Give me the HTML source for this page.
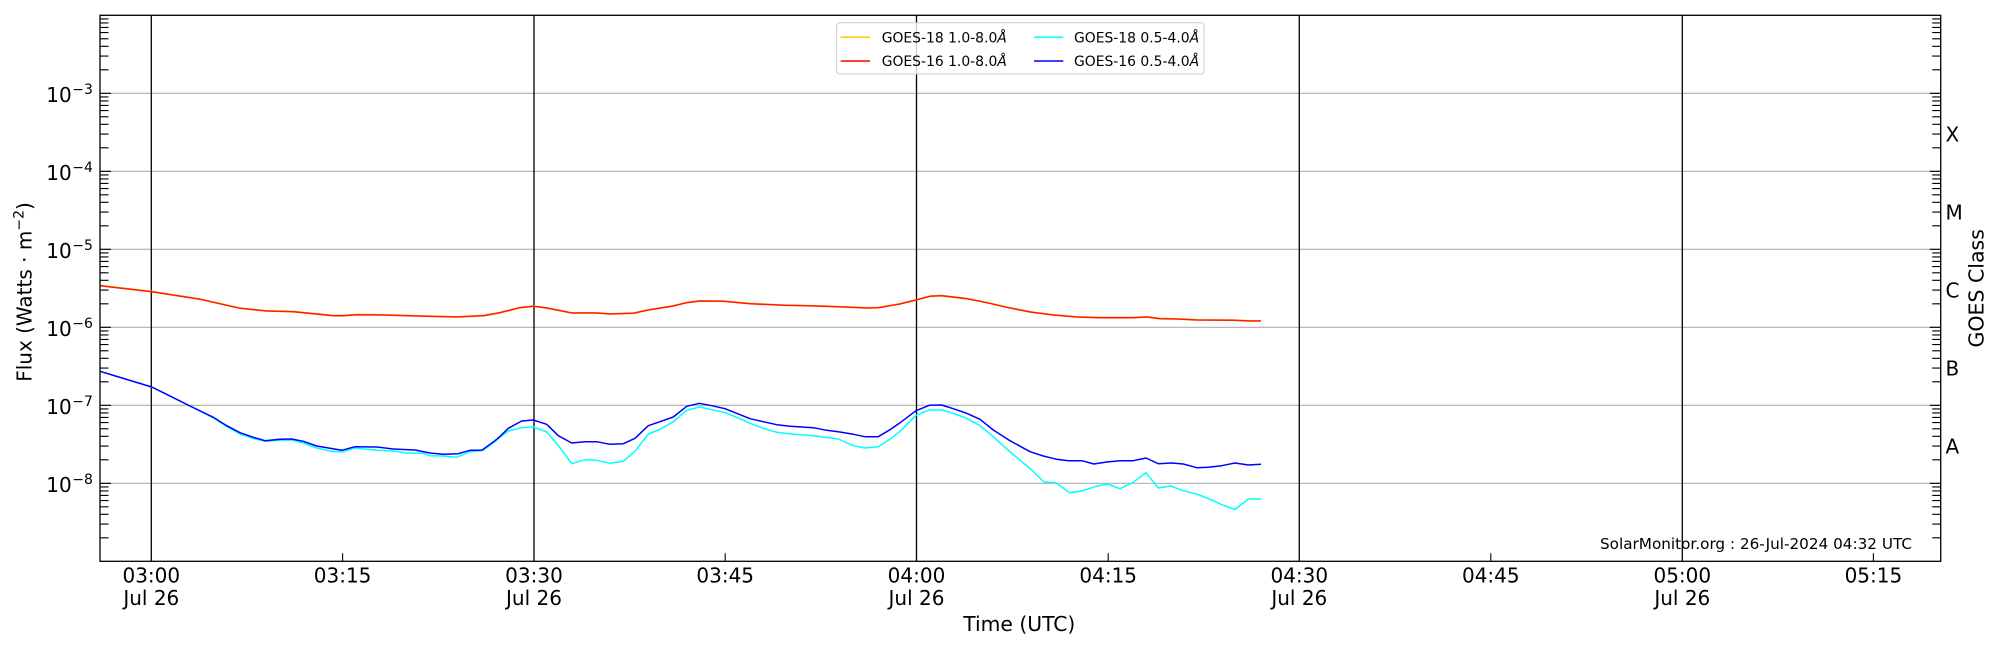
<!DOCTYPE html>
<html><head><meta charset="utf-8"><style>
html,body{margin:0;padding:0;background:#fff;}
svg{display:block;}
text{font-family:"DejaVu Sans","Liberation Sans",sans-serif;fill:#000;}
</style></head><body>
<svg width="2000" height="650" viewBox="0 0 2000 650" xmlns="http://www.w3.org/2000/svg">
<rect x="0" y="0" width="2000" height="650" fill="#fff"/>
<!-- horizontal grid -->
<g stroke="#b0b0b0" stroke-width="1.1">
<line x1="100" y1="93.3" x2="1940.7" y2="93.3"/>
<line x1="100" y1="171.3" x2="1940.7" y2="171.3"/>
<line x1="100" y1="249.3" x2="1940.7" y2="249.3"/>
<line x1="100" y1="327.3" x2="1940.7" y2="327.3"/>
<line x1="100" y1="405.3" x2="1940.7" y2="405.3"/>
<line x1="100" y1="483.3" x2="1940.7" y2="483.3"/>
</g>
<!-- vertical half-hour lines -->
<g stroke="#000" stroke-width="1.3">
<line x1="151.3" y1="15.3" x2="151.3" y2="561.3"/>
<line x1="534" y1="15.3" x2="534" y2="561.3"/>
<line x1="916.5" y1="15.3" x2="916.5" y2="561.3"/>
<line x1="1299.3" y1="15.3" x2="1299.3" y2="561.3"/>
<line x1="1682.3" y1="15.3" x2="1682.3" y2="561.3"/>
</g>
<!-- ticks -->
<path fill="none" stroke="#000" stroke-width="1.1" d="
M100 537.8h8.5M100 524.1h8.5M100 514.3h8.5M100 506.8h8.5M100 500.6h8.5M100 495.4h8.5M100 490.9h8.5M100 486.9h8.5
M100 459.8h8.5M100 446.1h8.5M100 436.3h8.5M100 428.8h8.5M100 422.6h8.5M100 417.4h8.5M100 412.9h8.5M100 408.9h8.5
M100 381.8h8.5M100 368.1h8.5M100 358.3h8.5M100 350.8h8.5M100 344.6h8.5M100 339.4h8.5M100 334.9h8.5M100 330.9h8.5
M100 303.8h8.5M100 290.1h8.5M100 280.3h8.5M100 272.8h8.5M100 266.6h8.5M100 261.4h8.5M100 256.9h8.5M100 252.9h8.5
M100 225.8h8.5M100 212.1h8.5M100 202.3h8.5M100 194.8h8.5M100 188.6h8.5M100 183.4h8.5M100 178.9h8.5M100 174.9h8.5
M100 147.8h8.5M100 134.1h8.5M100 124.3h8.5M100 116.8h8.5M100 110.6h8.5M100 105.4h8.5M100 100.9h8.5M100 96.9h8.5
M100 69.8h8.5M100 56.1h8.5M100 46.3h8.5M100 38.8h8.5M100 32.6h8.5M100 27.4h8.5M100 22.9h8.5M100 18.9h8.5
M100 483.3h11M100 405.3h11M100 327.3h11M100 249.3h11M100 171.3h11M100 93.3h11
M1940.7 537.8h-8.5M1940.7 524.1h-8.5M1940.7 514.3h-8.5M1940.7 506.8h-8.5M1940.7 500.6h-8.5M1940.7 495.4h-8.5M1940.7 490.9h-8.5M1940.7 486.9h-8.5
M1940.7 459.8h-8.5M1940.7 446.1h-8.5M1940.7 436.3h-8.5M1940.7 428.8h-8.5M1940.7 422.6h-8.5M1940.7 417.4h-8.5M1940.7 412.9h-8.5M1940.7 408.9h-8.5
M1940.7 381.8h-8.5M1940.7 368.1h-8.5M1940.7 358.3h-8.5M1940.7 350.8h-8.5M1940.7 344.6h-8.5M1940.7 339.4h-8.5M1940.7 334.9h-8.5M1940.7 330.9h-8.5
M1940.7 303.8h-8.5M1940.7 290.1h-8.5M1940.7 280.3h-8.5M1940.7 272.8h-8.5M1940.7 266.6h-8.5M1940.7 261.4h-8.5M1940.7 256.9h-8.5M1940.7 252.9h-8.5
M1940.7 225.8h-8.5M1940.7 212.1h-8.5M1940.7 202.3h-8.5M1940.7 194.8h-8.5M1940.7 188.6h-8.5M1940.7 183.4h-8.5M1940.7 178.9h-8.5M1940.7 174.9h-8.5
M1940.7 147.8h-8.5M1940.7 134.1h-8.5M1940.7 124.3h-8.5M1940.7 116.8h-8.5M1940.7 110.6h-8.5M1940.7 105.4h-8.5M1940.7 100.9h-8.5M1940.7 96.9h-8.5
M1940.7 69.8h-8.5M1940.7 56.1h-8.5M1940.7 46.3h-8.5M1940.7 38.8h-8.5M1940.7 32.6h-8.5M1940.7 27.4h-8.5M1940.7 22.9h-8.5M1940.7 18.9h-8.5
M1940.7 483.3h-11M1940.7 405.3h-11M1940.7 327.3h-11M1940.7 249.3h-11M1940.7 171.3h-11M1940.7 93.3h-11
M342.6 561.3v-8M725.2 561.3v-8M1108.2 561.3v-8M1490.8 561.3v-8M1873.4 561.3v-8
"/>
<!-- data: GOES-18 long (yellow), GOES-16 long (red) -->
<polyline fill="none" stroke="#ffc800" stroke-width="1.5" stroke-linejoin="round" points="100,285.4 151.7,291.4 200,299 240,308 266.7,310.7 293.3,311.4 333.3,315.4 343.3,315.4 356.7,314.4 383.3,314.7 416.7,315.7 456.7,316.7 483.3,315.4 500,312.4 520,307.4 533.3,306 546.7,307.7 571.7,312.7 596.7,312.7 610,313.7 633.3,313 648.3,309.7 673.3,305.7 686.7,302.4 700,300.7 723.3,301 750,303.4 783.3,305 816.7,305.7 850,307 866.7,307.7 878.3,307.4 900,303.7 916,299.7 930,296 941.7,295.4 966.7,298.4 986.7,302.4 1006.7,307 1030,311.7 1053.3,314.7 1076.7,316.7 1100,317.4 1133.3,317.4 1146.7,316.7 1160,318.4 1176.7,318.7 1196.7,319.7 1233.3,320 1250,320.7 1261,320.7"/>
<polyline fill="none" stroke="#ff1a00" stroke-width="1.5" stroke-linejoin="round" points="100,285.7 151.7,291.7 200,299.3 240,308.3 266.7,311 293.3,311.7 333.3,315.7 343.3,315.7 356.7,314.7 383.3,315 416.7,316 456.7,317 483.3,315.7 500,312.7 520,307.7 533.3,306.3 546.7,308 571.7,313 596.7,313 610,314 633.3,313.3 648.3,310 673.3,306 686.7,302.7 700,301 723.3,301.3 750,303.7 783.3,305.3 816.7,306 850,307.3 866.7,308 878.3,307.7 900,304 916,300 930,296.3 941.7,295.7 966.7,298.7 986.7,302.7 1006.7,307.3 1030,312 1053.3,315 1076.7,317 1100,317.7 1133.3,317.7 1146.7,317 1160,318.7 1176.7,319 1196.7,320 1233.3,320.3 1250,321 1261,321"/>
<!-- GOES-18 short (cyan) -->
<polyline fill="none" stroke="#00ffff" stroke-width="1.5" stroke-linejoin="round" points="100,371.3 151.7,387 163.3,392.7 190,406 213.3,417.8 226.7,426.5 240,434 253.3,438.5 265,441.3 280,440.3 291.7,440 303.3,443 316.7,448 330,451 341.7,452 355,448 376.7,450.3 393.3,451 406.7,453 423.3,453.3 430,455.7 443.3,456 456.7,457.3 470,451.7 483.3,450.3 495,441.7 500,437 508.3,431 521.7,427.7 533.3,427 546.7,432 559.3,446.7 571.7,463.7 585,459.7 596.7,460.3 610,463.3 623.3,461.3 635,451.3 648.3,434 660,429.3 673.3,421.7 686.7,410.3 699.3,407 711.7,409.7 725,412.7 736.7,417.3 750,423.3 763.3,428.3 776.7,432.3 790,434 813.3,435.7 838.3,439 853.3,445.7 865,448 878.3,446.7 890,439.3 900,431.3 916,415.3 929.3,410 941.7,410 953.3,413.3 966.7,418.3 980,425.7 993.3,436.7 1006.7,449 1018.3,458.7 1031.7,470 1044,482 1056,482.7 1069.3,492.7 1081.7,491 1095,486.7 1107.3,484 1120,488.7 1132.7,482.7 1146,472.7 1158.3,488 1170.7,486 1183.3,490.7 1196.7,494 1210,499.3 1223.3,505.3 1235,509.5 1248.3,499 1261,499"/>
<!-- GOES-16 short (blue) -->
<polyline fill="none" stroke="#0000ff" stroke-width="1.5" stroke-linejoin="round" points="100,371.3 151.7,387 163.3,392.7 190,406 213.3,417.3 226.7,425.7 240,432.7 253.3,437.3 265,440.7 280,439.3 291.7,439 303.3,441.3 316.7,446 330,448.3 341.7,450.3 355,446.7 376.7,447 393.3,449 415,450 430,453 443.3,454.3 458.3,453.7 470,450.3 481.7,450.3 495,440.7 500,436.5 508.3,428.3 521.7,421 533.3,420 546.7,424.3 558.3,435.7 571.7,443 585,441.7 596.7,441.7 610,444.3 623.3,443.7 635,438.3 648.3,425.7 660,421.7 673.3,417 686.7,406.3 699.3,403.3 711.7,405.7 725,408.7 736.7,413.3 750,418.7 763.3,421.7 776.7,424.7 790,426.3 813.3,427.7 826.7,430.3 840,432 853.3,434.3 865,436.7 878.3,436.7 890,429.7 900,422.8 916,410.7 929.3,405.3 941.7,405 953.3,408.7 966.7,413.3 980,419.3 993.3,430 1010,440.7 1030,451.7 1043.3,456 1056.7,459.3 1068.3,460.7 1081.7,460.7 1094,464 1106.7,462 1120,460.7 1133.3,460.7 1146,458 1158.3,463.7 1171.7,463 1183.3,464 1196.7,467.7 1208.3,467.3 1221.7,465.7 1235,463 1248.3,465 1261,464.3"/>
<!-- frame -->
<rect x="100" y="15.3" width="1840.7" height="546" fill="none" stroke="#000" stroke-width="1.3"/>
<!-- legend -->
<rect x="836.7" y="22.7" width="367.3" height="51.3" rx="3" ry="3" fill="#fff" fill-opacity="0.8" stroke="#cccccc" stroke-width="1"/>
<line x1="840.7" y1="37.3" x2="870" y2="37.3" stroke="#ffc800" stroke-width="1.5"/>
<line x1="840.7" y1="61" x2="870" y2="61" stroke="#ff0000" stroke-width="1.5"/>
<line x1="1034" y1="37.3" x2="1063.3" y2="37.3" stroke="#00ffff" stroke-width="1.5"/>
<line x1="1034" y1="61" x2="1063.3" y2="61" stroke="#0000ff" stroke-width="1.5"/>
<g font-size="13.9">
<text x="881.7" y="42.3">GOES-18 1.0-8.0<tspan font-style="italic">Å</tspan></text>
<text x="881.7" y="66">GOES-16 1.0-8.0<tspan font-style="italic">Å</tspan></text>
<text x="1074" y="42.3">GOES-18 0.5-4.0<tspan font-style="italic">Å</tspan></text>
<text x="1074" y="66">GOES-16 0.5-4.0<tspan font-style="italic">Å</tspan></text>
</g>
<!-- y tick labels -->
<g font-size="20">
<text x="71.7" y="101.8" text-anchor="end">10</text>
<text x="71.7" y="179.8" text-anchor="end">10</text>
<text x="71.7" y="257.8" text-anchor="end">10</text>
<text x="71.7" y="335.8" text-anchor="end">10</text>
<text x="71.7" y="413.8" text-anchor="end">10</text>
<text x="71.7" y="491.8" text-anchor="end">10</text>
</g>
<g font-size="14">
<text x="72.3" y="94">−3</text>
<text x="72.3" y="172">−4</text>
<text x="72.3" y="250">−5</text>
<text x="72.3" y="328">−6</text>
<text x="72.3" y="406">−7</text>
<text x="72.3" y="484">−8</text>
</g>
<!-- x tick labels -->
<g font-size="20" text-anchor="middle">
<text x="151.3" y="582.7">03:00</text><text x="151.3" y="605">Jul 26</text>
<text x="342.6" y="582.7">03:15</text>
<text x="534" y="582.7">03:30</text><text x="534" y="605">Jul 26</text>
<text x="725.2" y="582.7">03:45</text>
<text x="916.5" y="582.7">04:00</text><text x="916.5" y="605">Jul 26</text>
<text x="1108.2" y="582.7">04:15</text>
<text x="1299.3" y="582.7">04:30</text><text x="1299.3" y="605">Jul 26</text>
<text x="1490.8" y="582.7">04:45</text>
<text x="1682.3" y="582.7">05:00</text><text x="1682.3" y="605">Jul 26</text>
<text x="1873.4" y="582.7">05:15</text>
</g>
<!-- axis labels -->
<text x="1019.3" y="631" font-size="20.3" text-anchor="middle">Time (UTC)</text>
<text transform="translate(31.7,292) rotate(-90)" font-size="20" text-anchor="middle">Flux (Watts · m<tspan dy="-8" font-size="14">−2</tspan><tspan dy="8">)</tspan></text>
<text transform="translate(1983.3,288.3) rotate(-90)" font-size="20.5" text-anchor="middle">GOES Class</text>
<!-- GOES class letters -->
<g font-size="20">
<text x="1945.5" y="141.4">X</text>
<text x="1945.5" y="219.4">M</text>
<text x="1945.5" y="297.4">C</text>
<text x="1945.5" y="375.4">B</text>
<text x="1945.5" y="453.4">A</text>
</g>
<text x="1600" y="549" font-size="15.2" textLength="312" lengthAdjust="spacingAndGlyphs">SolarMonitor.org : 26-Jul-2024 04:32 UTC</text>
</svg>
</body></html>
